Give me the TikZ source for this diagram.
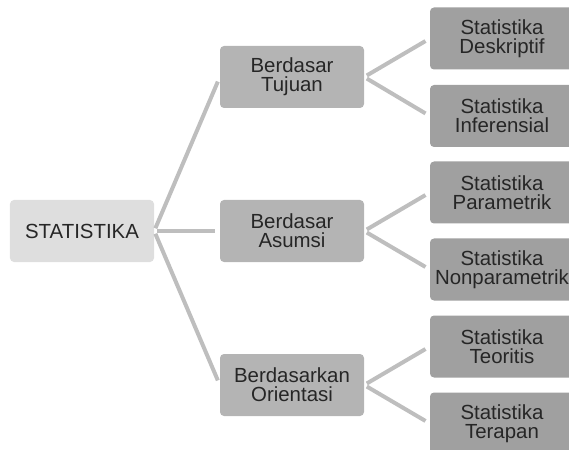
\documentclass[tikz,border=0pt]{standalone}
\usepackage{fontspec}
\setmainfont{Liberation Sans}
\definecolor{linkgray}{RGB}{190,190,190}
\definecolor{rootgray}{RGB}{222,222,222}
\definecolor{midgray}{RGB}{180,180,180}
\definecolor{leafgray}{RGB}{160,160,160}
\tikzset{
    box/.style={rounded corners=4bp, minimum width=144bp, minimum height=62bp,
        inner sep=0pt, align=center, text=black!85,
        font=\fontsize{20.5}{19}\selectfont},
    root box/.style={box, fill=rootgray},
    mid box/.style={box, fill=midgray},
    leaf box/.style={box, fill=leafgray},
    link/.style={draw=linkgray, line width=4bp, shorten <=3bp, shorten >=5bp},
}

\begin{document}
\begin{tikzpicture}[x=1bp, y=-1bp]
    \useasboundingbox (0,0) rectangle (569,450);
    \node[root box] (stat) at (82,231) {STATISTIKA};
    % kelompok
    \node[mid box] (tujuan) at (292,77) {Berdasar\\Tujuan};
    \node[mid box] (asumsi) at (292,231) {Berdasar\\Asumsi};
    \node[mid box] (orientasi) at (292,385) {Berdasarkan\\Orientasi};
    % jenis
    \node[leaf box] (deskriptif) at (502,38.5) {Statistika\\Deskriptif};
    \node[leaf box] (inferensial) at (502,116) {Statistika\\Inferensial};
    \node[leaf box] (parametrik) at (502,192.5) {Statistika\\Parametrik};
    \node[leaf box] (nonparametrik) at (502,269.5) {Statistika\\Nonparametrik};
    \node[leaf box] (teoritis) at (502,346.5) {Statistika\\Teoritis};
    \node[leaf box] (terapan) at (502,423.5) {Statistika\\Terapan};

    \draw[link] (stat.east) -- (tujuan.west);
    \draw[link] (stat.east) -- (asumsi.west);
    \draw[link] (stat.east) -- (orientasi.west);
    \draw[link] (tujuan.east) -- (deskriptif.west);
    \draw[link] (tujuan.east) -- (inferensial.west);
    \draw[link] (asumsi.east) -- (parametrik.west);
    \draw[link] (asumsi.east) -- (nonparametrik.west);
    \draw[link] (orientasi.east) -- (teoritis.west);
    \draw[link] (orientasi.east) -- (terapan.west);
\end{tikzpicture}
\end{document}
